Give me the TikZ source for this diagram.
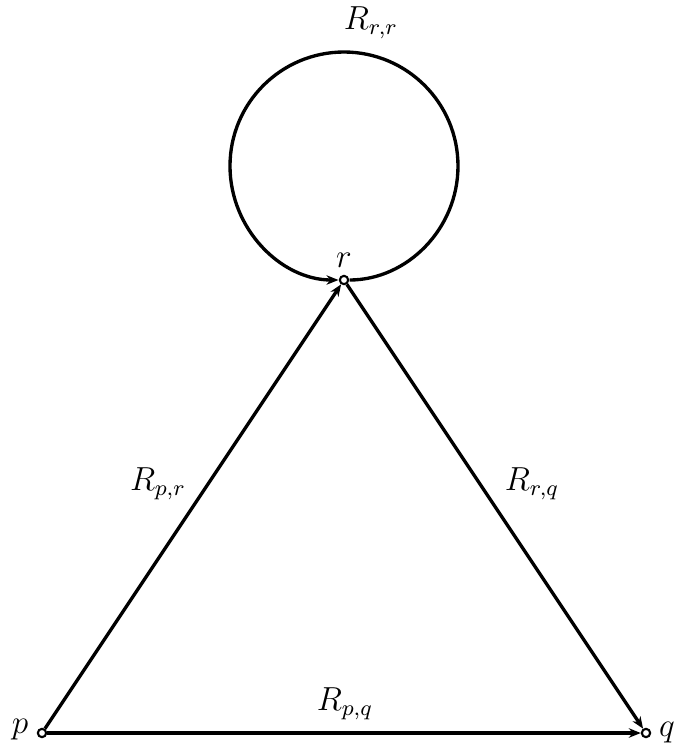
\documentclass[tikz,border=0pt,12pt]{standalone}
\usetikzlibrary{arrows.meta}
\begin{document}
\begin{tikzpicture}[x=0.36pt,y=-0.36pt,
  vert/.style={circle,draw,fill=white,line width=0.75pt,inner sep=0pt,minimum size=3pt},
  conn/.style={line width=1.2pt,-{Stealth[length=4.3pt,width=3.4pt]}},
  lab/.style={inner sep=0pt}]
\useasboundingbox (0,0) rectangle (675,747);
\node[vert] (p) at (42,733) {};
\node[vert] (q) at (646,733) {};
\node[vert] (r) at (344,280) {};
\draw[conn] (p) -- (r);
\draw[conn] (r) -- (q);
\draw[conn] (p) -- (q);
\draw[conn,shorten <=2pt,shorten >=2pt] (r.center) arc[start angle=90,end angle=-270,radius=114];
\node[lab] (lrr) at (371,23) {$R_{r,r}$};
\node[lab] (lpr) at (158,484) {$R_{p,r}$};
\node[lab] (lrq) at (532,484) {$R_{r,q}$};
\node[lab] (lpq) at (345,704) {$R_{p,q}$};
\node[lab] (lp) at (20,730) {$p$};
\node[lab] (lq) at (667,733) {$q$};
\node[lab] (lr) at (344,260) {$r$};
\end{tikzpicture}
\end{document}
